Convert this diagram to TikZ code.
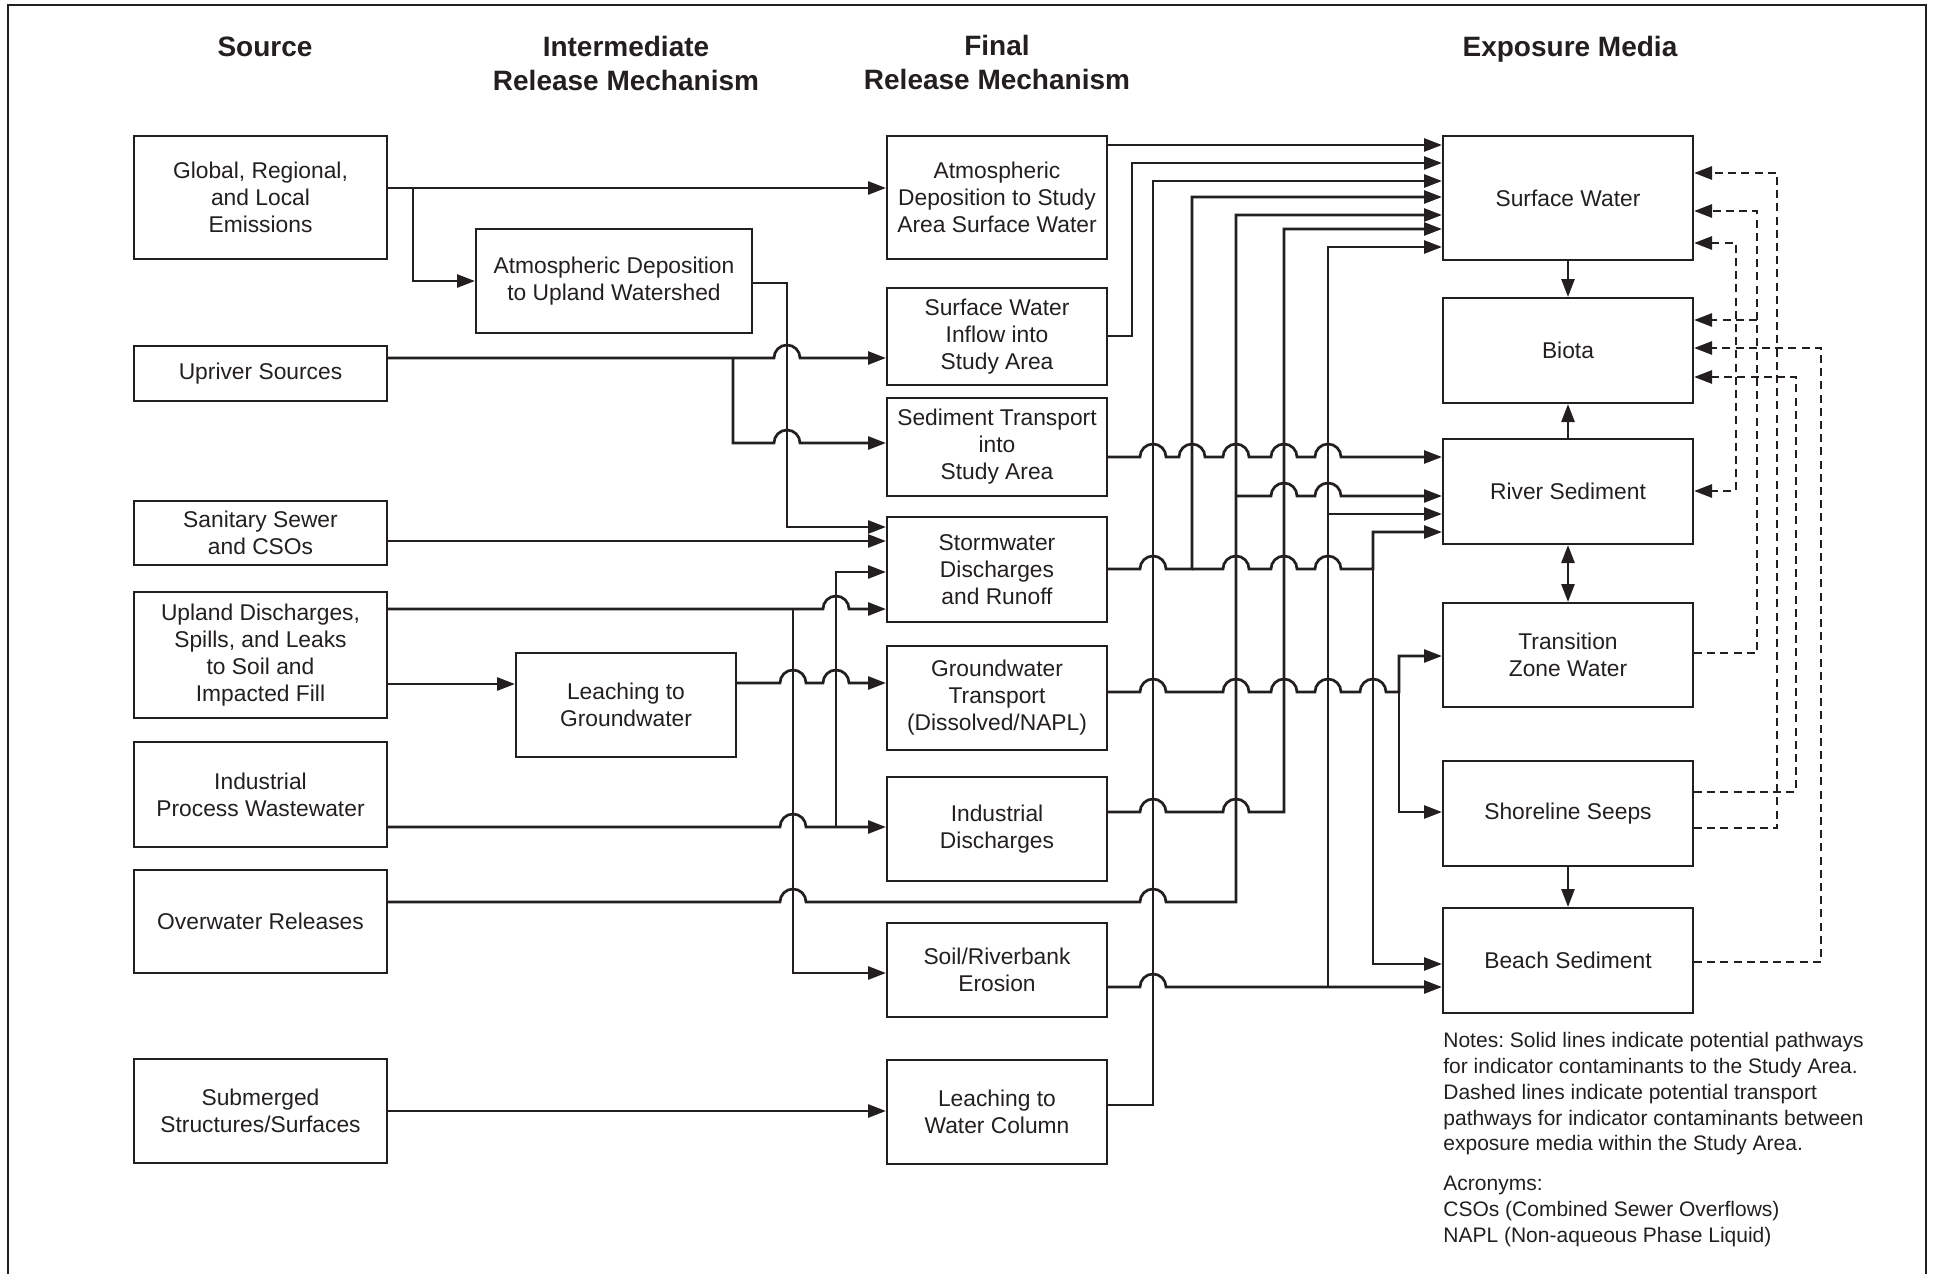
\documentclass[tikz,border=0pt]{standalone}
\usepackage{fontspec}
\setmainfont{Liberation Sans}
\usetikzlibrary{arrows.meta}
\definecolor{ink}{HTML}{231F20}
\frenchspacing
\begin{document}
\begin{tikzpicture}[x=0.5pt,y=-0.5pt,
  box/.style={draw=ink,line width=1pt,align=center,inner sep=0pt,text=ink,
    font=\fontsize{11.4}{13.5}\selectfont},
  conn/.style={draw=ink,line width=1.35pt,-{Triangle[length=9pt,width=6.5pt]}},
  dbl/.style={{Triangle[length=9pt,width=6.5pt]}-{Triangle[length=9pt,width=6.5pt]}},
  dconn/.style={draw=ink,line width=1.35pt,dash pattern=on 4pt off 2.6pt,-{Triangle[length=9pt,width=6.5pt]}},
  head/.style={text=ink,align=center,inner sep=0pt,font=\fontsize{14}{17}\selectfont\bfseries},
  notes/.style={text=ink,align=left,inner sep=0pt,font=\fontsize{10.5}{12.9}\selectfont}
]
\useasboundingbox (0,0) rectangle (1935,1274);
% frame
\draw[ink,line width=1pt] (8,1274) -- (8,5) -- (1926,5) -- (1926,1274);

% headings
\node[head,anchor=base] (hsrc) at (265,56) {Source};
\node[head] (hint) at (626,63) {Intermediate\\Release Mechanism};
\node[head] (hfin) at (997,62) {Final\\Release Mechanism};
\node[head,anchor=base] (hexp) at (1570,56) {Exposure Media};

% source column
\node[box,minimum width=126.5pt,minimum height=61.5pt] (glob) at (260.5,197.5) {Global, Regional,\\and Local\\Emissions};
\node[box,minimum width=126.5pt,minimum height=27.5pt] (upr) at (260.5,373.5) {Upriver Sources};
\node[box,minimum width=126.5pt,minimum height=32pt] (san) at (260.5,533) {Sanitary Sewer\\and CSOs};
\node[box,minimum width=126.5pt,minimum height=63pt] (upl) at (260.5,655) {Upland Discharges,\\Spills, and Leaks\\to Soil and\\Impacted Fill};
\node[box,minimum width=126.5pt,minimum height=52.5pt] (ind) at (260.5,794.5) {Industrial\\Process Wastewater};
\node[box,minimum width=126.5pt,minimum height=51.5pt] (ovw) at (260.5,921.5) {Overwater Releases};
\node[box,minimum width=126.5pt,minimum height=52pt] (sub) at (260.5,1111) {Submerged\\Structures/Surfaces};

% intermediate column
\node[box,minimum width=138pt,minimum height=52pt] (atmu) at (614,281) {Atmospheric Deposition\\to Upland Watershed};
\node[box,minimum width=110pt,minimum height=52pt] (leach) at (626,705) {Leaching to\\Groundwater};

% final column
\node[box,minimum width=110pt,minimum height=61.5pt] (atmf) at (997,197.5) {Atmospheric\\Deposition to Study\\Area Surface Water};
\node[box,minimum width=110pt,minimum height=48.5pt] (swin) at (997,336.5) {Surface Water\\Inflow into\\Study Area};
\node[box,minimum width=110pt,minimum height=49pt] (sedt) at (997,447) {Sediment Transport\\into\\Study Area};
\node[box,minimum width=110pt,minimum height=52.5pt] (stw) at (997,569.5) {Stormwater\\Discharges\\and Runoff};
\node[box,minimum width=110pt,minimum height=52pt] (gw) at (997,698) {Groundwater\\Transport\\(Dissolved/NAPL)};
\node[box,minimum width=110pt,minimum height=52pt] (indd) at (997,829) {Industrial\\Discharges};
\node[box,minimum width=110pt,minimum height=47pt] (soil) at (997,970) {Soil/Riverbank\\Erosion};
\node[box,minimum width=110pt,minimum height=52pt] (lwc) at (997,1112) {Leaching to\\Water Column};

% exposure media
\node[box,minimum width=125pt,minimum height=62pt] (sw) at (1568,198) {Surface Water};
\node[box,minimum width=125pt,minimum height=52.5pt] (bio) at (1568,350.5) {Biota};
\node[box,minimum width=125pt,minimum height=52.5pt] (rsed) at (1568,491.5) {River Sediment};
\node[box,minimum width=125pt,minimum height=52pt] (tzw) at (1568,655) {Transition\\Zone Water};
\node[box,minimum width=125pt,minimum height=52.5pt] (ss) at (1568,813.5) {Shoreline Seeps};
\node[box,minimum width=125pt,minimum height=52.5pt] (bs) at (1568,960.5) {Beach Sediment};

% notes
\node[notes,anchor=north west] (nt) at (1443,1032) {Notes: Solid lines indicate potential pathways\\for indicator contaminants to the Study Area.\\Dashed lines indicate potential transport\\pathways for indicator contaminants between\\exposure media within the Study Area.\\[7pt]Acronyms:\\CSOs (Combined Sewer Overflows)\\NAPL (Non-aqueous Phase Liquid)};

% junction coordinates
\coordinate (jg) at (413,188);
\coordinate (ju) at (733,358);
\coordinate (jl) at (793,609);
\coordinate (ji) at (836,827);
\coordinate (js) at (1192,569);
\coordinate (js2) at (1373,569);
\coordinate (jgw) at (1399,692);
\coordinate (jo) at (1236,496);
\coordinate (jsoil) at (1328,987);
\coordinate (jsoil2) at (1328,514);
\coordinate (jt) at (1757,320);

% source -> intermediate / final
\draw[conn] (glob.east |- jg) -- (atmf.west |- jg);
\draw[conn] (jg) |- (atmu.west);
\draw[conn] (atmu.east |- 0,283) -- (787,283) -- (787,527) -- (stw.west |- 0,527);
\draw[conn] (upr.east |- ju) -- (774,358) arc[start angle=180,end angle=0,radius=6.5pt] -- (swin.west |- ju);
\draw[conn] (ju) -- (733,443) -- (774,443) arc[start angle=180,end angle=0,radius=6.5pt] -- (sedt.west |- 0,443);
\draw[conn] (san.east |- 0,541) -- (stw.west |- 0,541);
\draw[conn] (upl.east |- jl) -- (823,609) arc[start angle=180,end angle=0,radius=6.5pt] -- (stw.west |- jl);
\draw[conn] (jl) |- (soil.west |- 0,973);
\draw[conn] (upl.east |- 0,684) -- (leach.west |- 0,684);
\draw[conn] (leach.east |- 0,683) foreach \j in {793,836}{ -- (\j-13,683) arc[start angle=180,end angle=0,radius=6.5pt]} -- (gw.west |- 0,683);
\draw[conn] (ind.east |- ji) -- (780,827) arc[start angle=180,end angle=0,radius=6.5pt] -- (indd.west |- ji);
\draw[conn] (ji) |- (stw.west |- 0,572);
\draw[conn] (ovw.east |- 0,902) foreach \j in {793,1153}{ -- (\j-13,902) arc[start angle=180,end angle=0,radius=6.5pt]} -- (1236,902) |- (sw.west |- 0,215);
\draw[conn] (sub.east |- 0,1111) -- (lwc.west |- 0,1111);

% final -> exposure
\draw[conn] (atmf.east |- 0,145) -- (sw.west |- 0,145);
\draw[conn] (swin.east |- 0,336) -- (1132,336) |- (sw.west |- 0,163);
\draw[conn] (lwc.east |- 0,1105) -- (1153,1105) |- (sw.west |- 0,181);
\draw[conn] (stw.east |- js) -- (1140,569) arc[start angle=180,end angle=0,radius=6.5pt] -- (js) |- (sw.west |- 0,197);
\draw[conn] (js) foreach \j in {1236,1284,1328}{ -- (\j-13,569) arc[start angle=180,end angle=0,radius=6.5pt]} -- (js2) |- (rsed.west |- 0,532);
\draw[conn] (js2) |- (bs.west |- 0,964);
\draw[conn] (gw.east |- jgw) foreach \j in {1153,1236,1284,1328,1373}{ -- (\j-13,692) arc[start angle=180,end angle=0,radius=6.5pt]} -- (jgw) |- (tzw.west |- 0,656);
\draw[conn] (jgw) |- (ss.west |- 0,812);
\draw[conn] (indd.east |- 0,812) foreach \j in {1153,1236}{ -- (\j-13,812) arc[start angle=180,end angle=0,radius=6.5pt]} -- (1284,812) |- (sw.west |- 0,229);
\draw[conn] (soil.east |- jsoil) -- (1140,987) arc[start angle=180,end angle=0,radius=6.5pt] -- (bs.west |- jsoil);
\draw[conn] (jsoil) |- (sw.west |- 0,247);
\draw[conn] (jsoil2) -- (rsed.west |- jsoil2);
\draw[conn] (sedt.east |- 0,457) foreach \j in {1153,1192,1236,1284,1328}{ -- (\j-13,457) arc[start angle=180,end angle=0,radius=6.5pt]} -- (rsed.west |- 0,457);
\draw[conn] (jo) foreach \j in {1284,1328}{ -- (\j-13,496) arc[start angle=180,end angle=0,radius=6.5pt]} -- (rsed.west |- jo);

% exposure media solid links
\draw[conn] (sw.south) -- (bio.north);
\draw[conn] (rsed.north) -- (bio.south);
\draw[conn,dbl] (rsed.south) -- (tzw.north);
\draw[conn] (ss.south) -- (bs.north);

% dashed links
\draw[dconn] (ss.east |- 0,828) -- (1777,828) |- (sw.east |- 0,173);
\draw[dconn] (tzw.east |- 0,653) -- (1757,653) |- (sw.east |- 0,211);
\draw[dconn] (jt) -- (bio.east |- jt);
\draw[dconn,dbl] (sw.east |- 0,243) -- (1736,243) -- (1736,491) -- (rsed.east |- 0,491);
\draw[dconn] (bs.east |- 0,962) -- (1821,962) |- (bio.east |- 0,348);
\draw[dconn] (ss.east |- 0,792) -- (1796,792) |- (bio.east |- 0,377);
\end{tikzpicture}
\end{document}
